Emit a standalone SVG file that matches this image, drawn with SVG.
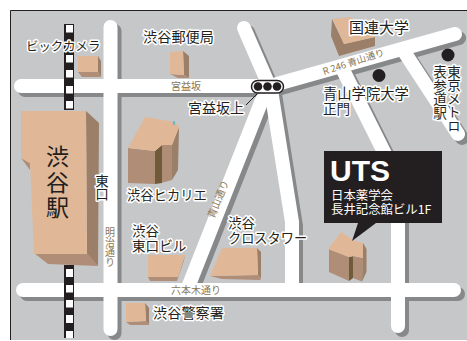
<svg xmlns="http://www.w3.org/2000/svg" width="467" height="341" viewBox="0 0 467 341">
<style>
text{font-family:"Noto Sans CJK JP","Liberation Sans",sans-serif;}
.r{fill:none;stroke-linecap:round;stroke-linejoin:miter;stroke-width:14;}
.l{fill:#231f20;stroke:#fff;stroke-width:3;stroke-linejoin:round;paint-order:stroke;font-size:13.600px;}
.v{writing-mode:vertical-rl;text-orientation:upright;}
.rl{fill:#8a7654;font-size:10px;}
.t{fill:#e1b897;}.d{fill:#9b7f68;}.f{fill:#b08d76;}.k{fill:#6f5a3a;}
</style>
<defs>
<g id="roads">
<path class="r" d="M21 86H270L455 34"/>
<path class="r" d="M110.500 27V329"/>
<path class="r" d="M23 290H454"/>
<path class="r" d="M244 28L271 90L292 222V290"/>
<path class="r" d="M262 100L187 290"/>
<path class="r" d="M342 68L398 180V326"/>
<path class="r" d="M403 50L458 134"/>
</g>
</defs>
<rect x="10" y="10" width="457" height="330" fill="#c6c7c9"/>
<path d="M10.500 340V10.500H467" fill="none" stroke="#231f20" stroke-width="1"/>
<g id="connectors">
<use href="#roads" stroke="#86888a" transform="translate(4 4)"/>
<use href="#roads" stroke="#fff"/>
</g>
<g id="rail">
<path fill="#231f20" d="M64 24H74V110H64ZM64 265H74V338H64Z"/>
<path fill="#fff" d="M66 25h7v7.500h-7zM66 55h7v7.500h-7zM66 70h7v7.500h-7zM66 86h7v7.500h-7zM66 101h7v7.500h-7zM66 269h7v8h-7zM66 285h7v7.500h-7zM66 300h7v7.500h-7zM66 315h7v8h-7zM66 331h7v7h-7z"/>
</g>
<g id="shibuya-station">
<path class="d" d="M86 111L99 123L98 266L87 254Z"/>
<path class="f" d="M34 253L87 253L98 266L48 264ZM21 158L30 170V163Z"/>
<path class="t" d="M21 111H86L87 254H34L30 163L21 158Z"/>
<text x="57.500" y="165" text-anchor="middle" font-size="23" fill="#231f20">渋</text>
<text x="57.500" y="191" text-anchor="middle" font-size="23" fill="#231f20">谷</text>
<text x="57.500" y="216" text-anchor="middle" font-size="23" fill="#231f20">駅</text>
</g>
<g id="bic-camera">
<path class="d" d="M98 56L101 61V77L98 72Z"/><path class="f" d="M78 72H98L101 77H82Z"/><path class="t" d="M78 56H98V72H78Z"/>
<text class="l" x="26" y="51" style="font-size:12.400px">ビックカメラ</text>
</g>
<g id="post-office">
<path class="d" d="M183 51L189 56V78L184 75Z"/><path class="f" d="M170 74L184 75L189 78H178Z"/><path class="t" d="M170 52L183 51L184 75L170 74Z"/>
<text class="l" x="143" y="42" style="font-size:14.200px">渋谷郵便局</text>
</g>
<g id="miyamasuzaka-ue">
<text class="l" x="188" y="113" style="font-size:14px">宮益坂上</text>
<path d="M257 94L246 105" stroke="#231f20" stroke-width="1" fill="none"/>
</g>
<g id="signal">
<rect x="251.500" y="80.500" width="32" height="12.500" rx="6.250" fill="#fff" stroke="#231f20" stroke-width="1.500"/>
<circle cx="258" cy="86.500" r="4.300" fill="#231f20"/><circle cx="267.500" cy="86.500" r="4.300" fill="#231f20"/><circle cx="277" cy="86.500" r="4.300" fill="#231f20"/>
</g>
<g id="un-university">
<path class="d" d="M332 19L331 36L339 56L375 46L375 37L344 44Z"/>
<path class="t" d="M333 19L350 17L375 37L344 44Z"/>
<text class="l" x="349" y="32.500" style="font-size:15px">国連大学</text>
</g>
<g id="aoyama-gakuin">
<circle cx="379" cy="75.500" r="6.500" fill="#231f20"/>
<text class="l" x="323" y="99" style="font-size:14.300px">青山学院大学</text>
<text class="l" x="323" y="113.500">正門</text>
</g>
<g id="omotesando">
<circle cx="448" cy="55" r="6.500" fill="#231f20"/>
<text class="l v" x="454" y="65" style="font-size:13.500px">東京メトロ</text>
<text class="l v" x="440" y="65">表参道駅</text>
</g>
<g id="hikarie">
<path class="d" d="M172 145L179 127L178 170L172 180Z"/>
<path class="f" d="M128 148L155 151V184L128 183ZM162 145H172V180L161 183Z"/>
<path class="k" d="M155 151L162 145V183L155 184Z"/>
<path class="t" d="M128 148L145 117L175 122L179 127L172 145H162L155 151Z"/>
<rect x="173.500" y="121" width="1" height="4" fill="#00b7e6"/>
<text class="l" x="127" y="200" style="font-size:13.300px">渋谷ヒカリエ</text>
</g>
<g id="higashiguchi-label"><text class="l v" x="102" y="174" style="font-size:13.500px">東口</text></g>
<g id="east-exit-building">
<path class="f" d="M148 277H178L177 281H150Z"/>
<path class="d" d="M185 255L184 260L177 281L178 277Z"/>
<path class="t" d="M148 255H185L178 277H148Z"/>
<text class="l" x="132" y="236">渋谷</text>
<text class="l" x="132" y="250.500">東口ビル</text>
</g>
<g id="cross-tower">
<path class="d" d="M257 248L261 252V279L258 275Z"/>
<path class="f" d="M210 276L258 275L261 280L222 279Z"/>
<path class="t" d="M222 248H257L258 275L210 276Z"/>
<text class="l" x="228" y="228">渋谷</text>
<text class="l" x="228" y="243" style="font-size:13.200px">クロスタワー</text>
</g>
<g id="police">
<path class="d" d="M145 303L149 308V325L146 321Z"/>
<path class="f" d="M126 322L146 321L149 325H130Z"/>
<path class="t" d="M126 303H145L146 321L126 322Z"/>
<text class="l" x="153" y="318" style="font-size:14.200px">渋谷警察署</text>
</g>
<g id="uts-building">
<path class="d" d="M363 243L366.500 249V272L362 281.500Z"/>
<path class="f" d="M329 249L349 257V281L329 272ZM353 256L363 258L362 281.500L353 278Z"/>
<path class="k" d="M349 257L353 256V278L349 281Z"/>
<path class="t" d="M328 249L341 232L353 240L363 243V258L354 256L349 257Z"/>
</g>
<g id="uts-label">
<path fill="#231f20" d="M324 151H442V223H376L352 241L358 223H324Z"/>
<text x="330" y="181" font-size="30" font-weight="700" fill="#fff" style="font-family:'Liberation Sans',sans-serif">UTS</text>
<text x="331" y="200" font-size="12.400" fill="#fff">日本薬学会</text>
<text x="331" y="214" font-size="12.400" fill="#fff">長井記念館ビル1F</text>
</g>
<g id="road-labels">
<text class="rl" x="171" y="90">宮益坂</text>
<text class="rl v" x="110" y="227">明治通り</text>
<text class="rl" x="171" y="294">六本木通り</text>
<text class="rl" transform="translate(324 75) rotate(-18)" style="font-size:9.500px">R 246 青山通り</text>
<text class="rl" transform="translate(214 219) rotate(-68)">青山通り</text>
</g>
</svg>
